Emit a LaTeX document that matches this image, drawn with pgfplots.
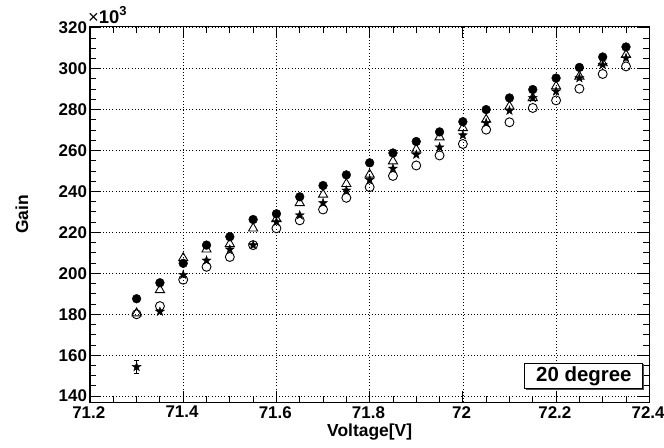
\documentclass[border=0pt]{standalone}
\usepackage{fontspec}
\setmainfont{Liberation Sans}
\usepackage{pgfplots}
\pgfplotsset{compat=1.18}
\usetikzlibrary{shadows}

% filled five-pointed star (ROOT marker 29)
\pgfdeclareplotmark{fstar}{%
  \pgfpathmoveto{\pgfpointpolar{90}{\pgfplotmarksize}}%
  \pgfpathlineto{\pgfpointpolar{126}{0.4\pgfplotmarksize}}%
  \pgfpathlineto{\pgfpointpolar{162}{\pgfplotmarksize}}%
  \pgfpathlineto{\pgfpointpolar{198}{0.4\pgfplotmarksize}}%
  \pgfpathlineto{\pgfpointpolar{234}{\pgfplotmarksize}}%
  \pgfpathlineto{\pgfpointpolar{270}{0.4\pgfplotmarksize}}%
  \pgfpathlineto{\pgfpointpolar{306}{\pgfplotmarksize}}%
  \pgfpathlineto{\pgfpointpolar{342}{0.4\pgfplotmarksize}}%
  \pgfpathlineto{\pgfpointpolar{18}{\pgfplotmarksize}}%
  \pgfpathlineto{\pgfpointpolar{54}{0.4\pgfplotmarksize}}%
  \pgfpathclose
  \pgfusepathqfillstroke
}

\begin{document}
\begin{tikzpicture}
\path[use as bounding box] (-90bp,-45.7bp) rectangle (574bp,402.3bp);
\begin{axis}[
    name=ax,
    scale only axis,
    width=559.3bp, height=375.6bp,
    xmin=71.2, xmax=72.4,
    ymin=137, ymax=320.5,
    xtick={71.2,71.4,...,72.41},
    ytick={140,160,...,320},
    minor x tick num=3,
    minor y tick num=3,
    tick align=inside,
    major tick length=11bp,
    minor tick length=6bp,
    axis line style={line width=1.2bp},
    every tick/.style={black, line width=0.9bp},
    grid=major,
    major grid style={black, line width=0.6bp, dash pattern=on 0.9bp off 2.3bp},
    /pgf/number format/assume math mode=true,
    tick label style={font=\bfseries\fontsize{17}{17}\selectfont},
    xticklabel style={yshift=-0.5bp, xshift=-1.2bp},
    yticklabel style={xshift=0.5bp},
    xlabel={Voltage[V]},
    ylabel={Gain},
    every axis x label/.style={at={(rel axis cs:0.5,0)}, anchor=center, yshift=-29.7bp, font=\bfseries\fontsize{17.5}{17.5}\selectfont},
    every axis y label/.style={at={(rel axis cs:0,0.5)}, xshift=-68bp, anchor=center, rotate=90, font=\bfseries\fontsize{17.5}{17.5}\selectfont},
    clip=false,
]
% open triangles
\addplot[only marks, mark=triangle, mark size=5.3bp, line width=0.9bp] coordinates {
  (71.30,180.5) (71.35,191.9) (71.40,207.5) (71.45,211.7) (71.50,214.4) (71.55,222.0)
  (71.60,226.6) (71.65,234.4) (71.70,238.5) (71.75,243.7) (71.80,248.3) (71.85,254.8)
  (71.90,260.5) (71.95,266.5) (72.00,271.0) (72.05,275.1) (72.10,281.6) (72.15,285.7)
  (72.20,291.4) (72.25,296.2) (72.30,302.7) (72.35,306.8)
};
% open circles
\addplot[only marks, mark=o, mark size=4.5bp, line width=0.9bp] coordinates {
  (71.30,180.0) (71.35,184.0) (71.40,196.9) (71.45,203.2) (71.50,208.0) (71.55,213.8)
  (71.60,222.0) (71.65,225.9) (71.70,231.2) (71.75,236.9) (71.80,242.1) (71.85,247.6)
  (71.90,252.7) (71.95,257.6) (72.00,263.2) (72.05,270.2) (72.10,273.8) (72.15,280.8)
  (72.20,284.5) (72.25,290.2) (72.30,297.4) (72.35,301.1)
};
% error bar of the first star point
\addplot[draw=none, mark=none, forget plot,
    error bars/.cd, y dir=both, y explicit,
    error bar style={black, line width=0.9bp},
    error mark options={black, line width=0.9bp, mark size=2.5bp, rotate=90}]
  coordinates {(71.30,154.3) +- (0,3.2)};
% filled stars
\addplot[only marks, mark=fstar, mark size=4.7bp, line width=0.4bp, fill=black] coordinates {
  (71.30,154.3) (71.35,181.3) (71.40,199.3) (71.45,206.3) (71.50,211.7) (71.55,213.8)
  (71.60,225.2) (71.65,228.4) (71.70,234.4) (71.75,240.5) (71.80,245.7) (71.85,251.2)
  (71.90,258.0) (71.95,261.6) (72.00,267.5) (72.05,273.5) (72.10,279.5) (72.15,285.7)
  (72.20,288.9) (72.25,295.4) (72.30,301.9) (72.35,305.2)
};
% filled circles
\addplot[only marks, mark=*, mark size=4.4bp, fill=black] coordinates {
  (71.30,187.6) (71.35,195.4) (71.40,204.9) (71.45,213.8) (71.50,217.9) (71.55,226.3)
  (71.60,229.1) (71.65,237.4) (71.70,242.9) (71.75,248.1) (71.80,254.0) (71.85,258.8)
  (71.90,264.4) (71.95,269.1) (72.00,274.1) (72.05,280.0) (72.10,285.7) (72.15,289.8)
  (72.20,295.4) (72.25,300.6) (72.30,305.7) (72.35,310.6)
};
\node[draw, line width=0.9bp, fill=white, minimum width=118bp, minimum height=25.7bp, inner sep=0pt,
      drop shadow={shadow xshift=1.2bp, shadow yshift=-1.2bp, fill=black!70, opacity=1},
      font=\bfseries\fontsize{20.5}{20.5}\selectfont]
  at (rel axis cs:0.883,0.070) {20 degree};
\end{axis}
\node[anchor=base west, inner sep=0pt, font=\fontsize{18.5}{18.5}\selectfont]
  at ([xshift=-2bp, yshift=2.7bp]ax.north west)
  {×\textbf{10}\raisebox{8.5bp}{\fontsize{13}{13}\selectfont\bfseries 3}};
\end{tikzpicture}
\end{document}
